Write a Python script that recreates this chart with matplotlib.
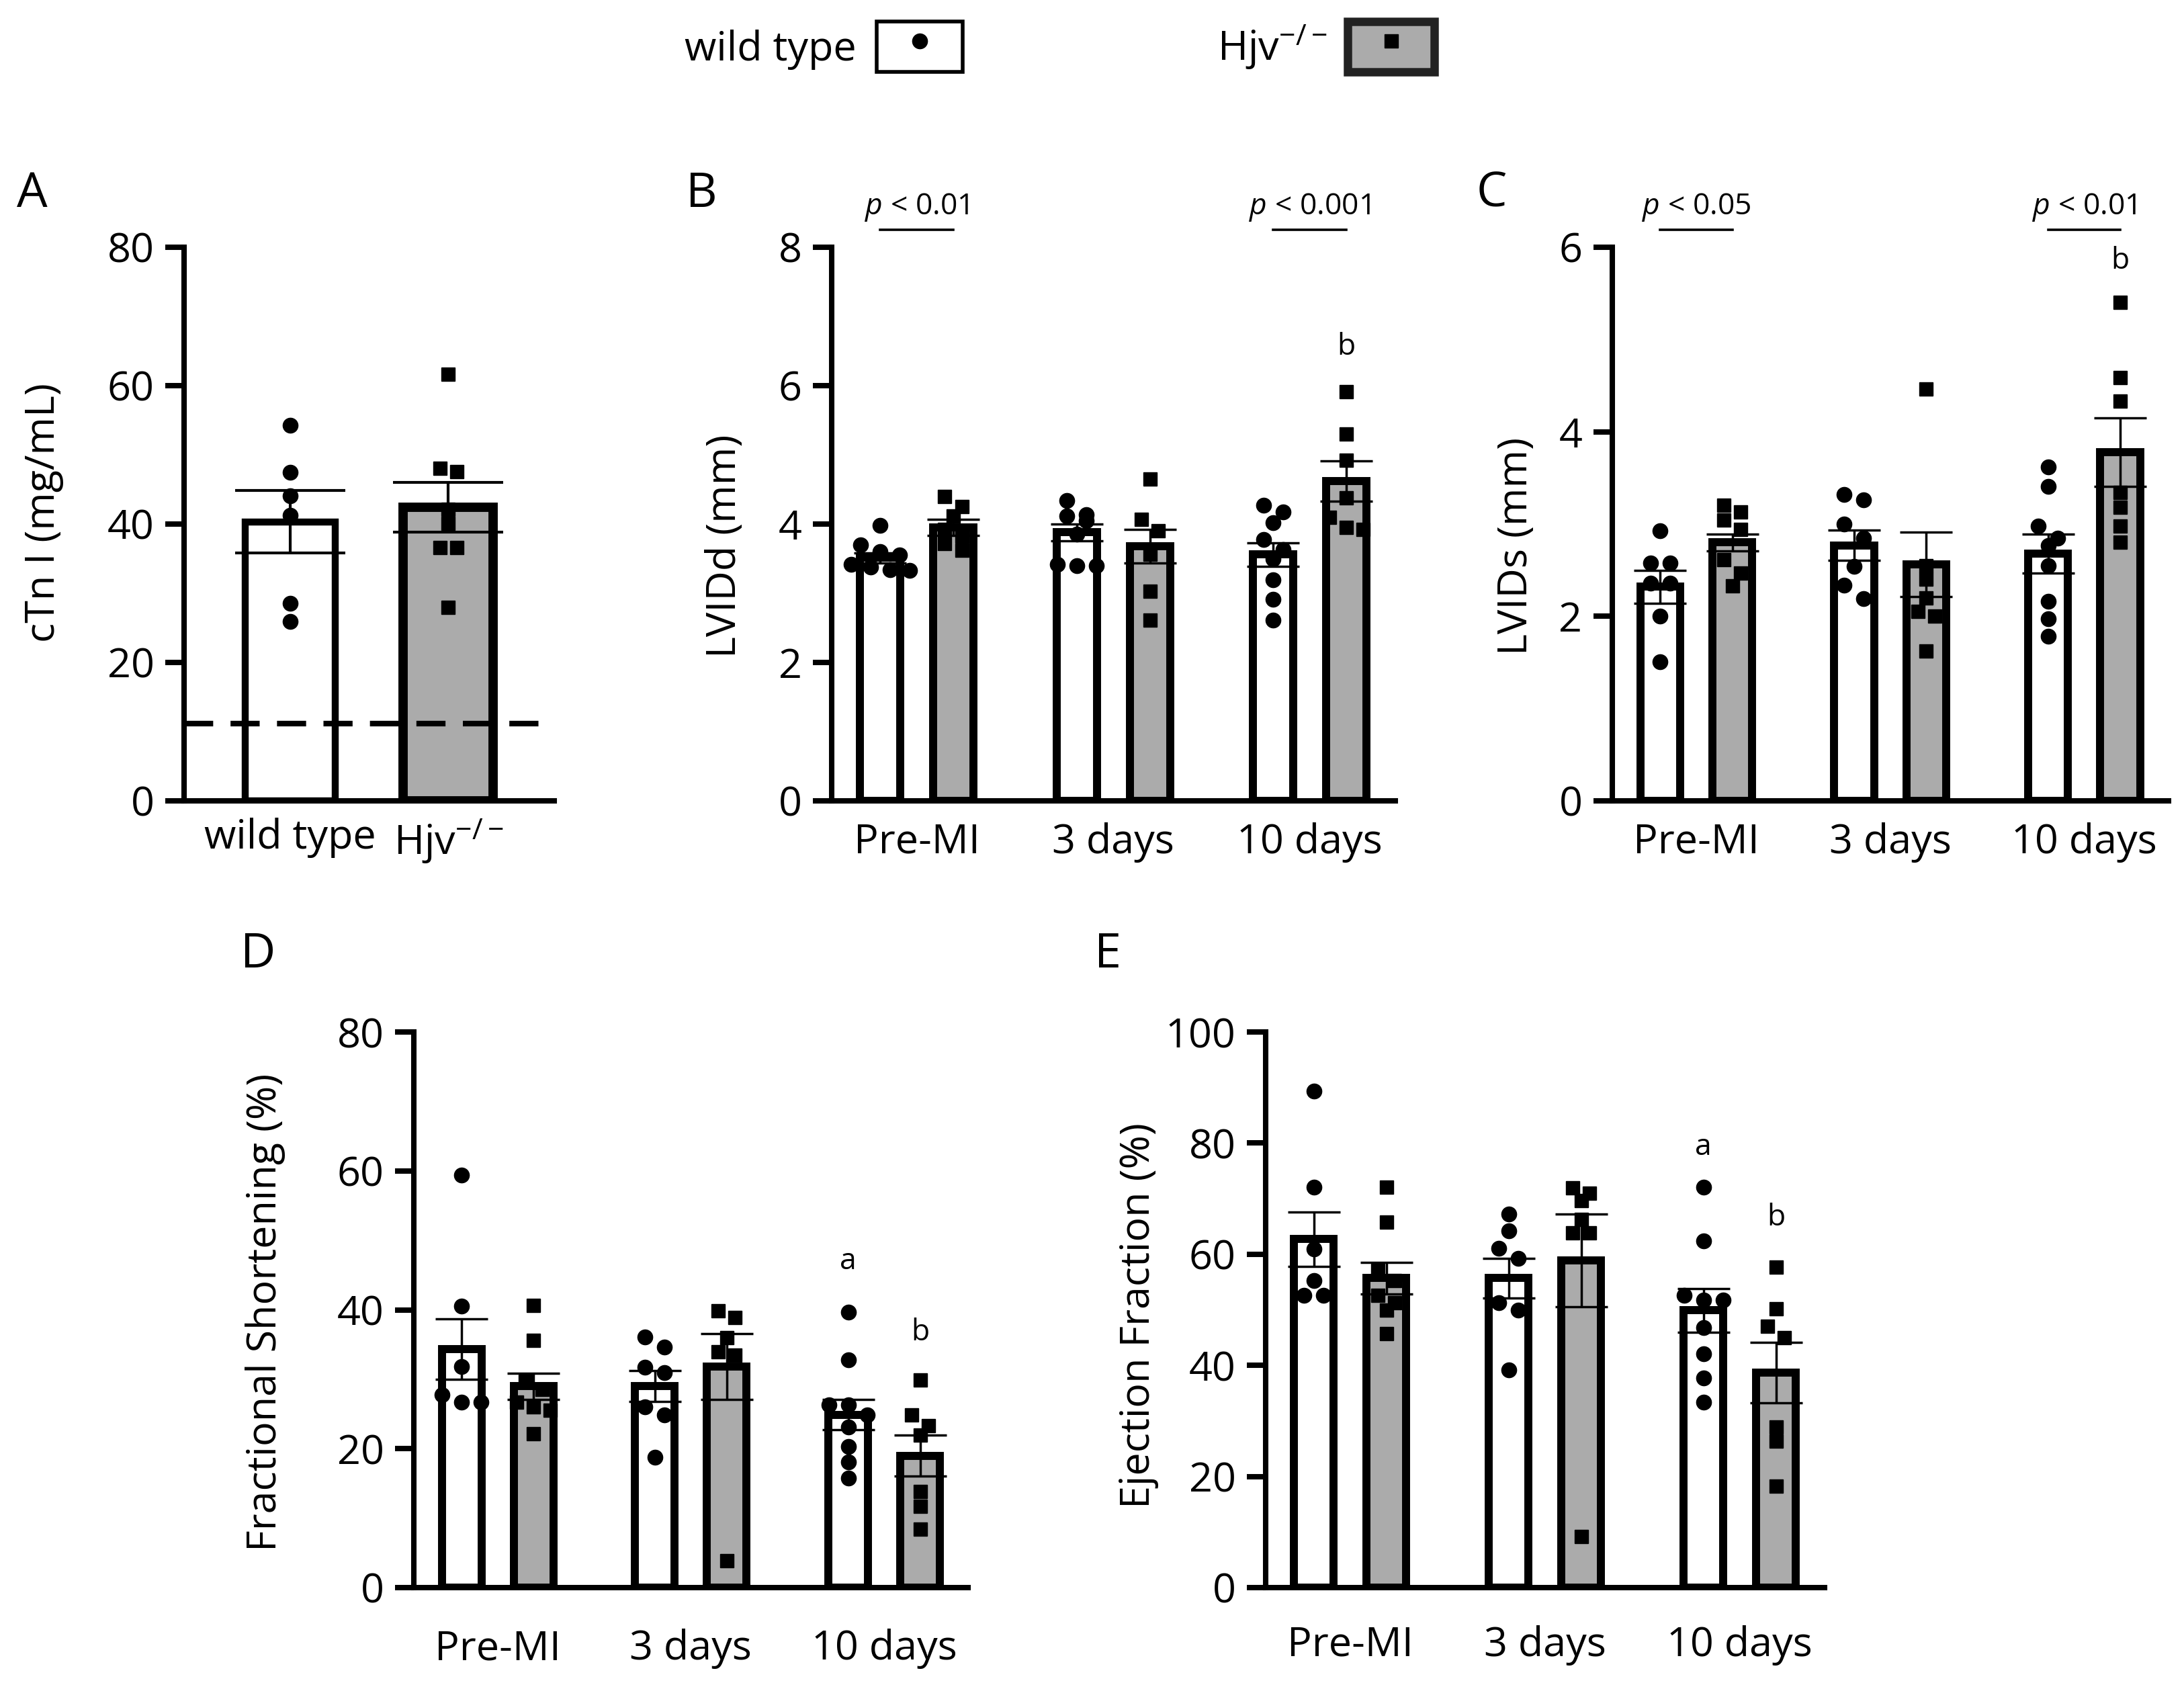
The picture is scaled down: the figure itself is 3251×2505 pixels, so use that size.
import numpy as np
import matplotlib.pyplot as plt
from matplotlib.lines import Line2D
from matplotlib.patches import Patch
from matplotlib.legend_handler import HandlerTuple

plt.rcParams['font.family'] = ['Open Sans', 'DejaVu Sans']
plt.rcParams['mathtext.fontset'] = 'custom'
plt.rcParams['mathtext.rm'] = 'Open Sans'
plt.rcParams['mathtext.it'] = 'Open Sans:italic'

GRAY = '#ababab'

groups = ['Pre-MI', '3 days', '10 days']

# A - serum cTnI
ctni_labels = ['wild type', 'Hjv$^{-/-}$']
ctni_mean = [40.3, 42.4]
ctni_sem = [4.5, 3.6]
ctni_wt = [54.3, 47.5, 44.1, 41.3, 28.5, 25.9]
ctni_hjv = [61.6, 48.1, 47.6, 42.1, 40.1, 36.6, 36.6, 28.0]
ctni_limit = 11.2

# B - LVIDd (mm)
lvidd_wt_mean = [3.51, 3.88, 3.56]
lvidd_wt_sem = [0.07, 0.12, 0.17]
lvidd_hjv_mean = [3.95, 3.68, 4.62]
lvidd_hjv_sem = [0.12, 0.24, 0.29]
lvidd_wt = [[3.98, 3.70, 3.60, 3.55, 3.42, 3.38, 3.34, 3.33],
            [4.34, 4.14, 4.12, 4.05, 3.85, 3.42, 3.40, 3.40],
            [4.27, 4.17, 4.02, 3.78, 3.63, 3.49, 3.19, 2.91, 2.61]]
lvidd_hjv = [[4.40, 4.25, 4.12, 3.92, 3.82, 3.72, 3.62],
             [4.65, 4.07, 3.90, 3.56, 3.03, 2.61],
             [5.91, 5.30, 4.92, 4.38, 4.10, 3.95, 3.92]]

# C - LVIDs (mm)
lvids_wt_mean = [2.32, 2.77, 2.68]
lvids_wt_sem = [0.18, 0.165, 0.21]
lvids_hjv_mean = [2.80, 2.56, 3.78]
lvids_hjv_sem = [0.09, 0.35, 0.37]
lvids_wt = [[2.93, 2.58, 2.58, 2.36, 2.36, 2.00, 1.51],
            [3.32, 3.26, 3.00, 2.85, 2.54, 2.34, 2.19],
            [3.62, 3.41, 2.98, 2.85, 2.77, 2.55, 2.16, 1.97, 1.78]]
lvids_hjv = [[3.20, 3.13, 3.04, 2.94, 2.61, 2.47, 2.33],
             [4.46, 2.55, 2.40, 2.20, 2.05, 2.00, 1.62],
             [5.40, 4.59, 4.33, 3.34, 3.18, 2.98, 2.80]]

# D - fractional shortening (%)
fs_wt_mean = [34.3, 29.0, 24.9]
fs_wt_sem = [4.35, 2.2, 2.2]
fs_hjv_mean = [29.0, 31.8, 19.0]
fs_hjv_sem = [1.9, 4.75, 2.95]
fs_wt = [[59.4, 40.5, 31.8, 27.8, 26.7, 26.7],
         [36.1, 34.6, 31.7, 31.0, 26.0, 24.9, 18.8],
         [39.7, 32.8, 26.3, 26.3, 24.9, 23.1, 20.3, 18.1, 15.8]]
fs_hjv = [[40.6, 35.6, 29.7, 28.5, 26.7, 26.0, 25.5, 22.2],
          [39.9, 38.9, 36.0, 34.0, 33.5, 3.9],
          [29.9, 24.9, 23.3, 22.0, 13.8, 11.7, 8.4]]

# E - ejection fraction (%)
ef_wt_mean = [62.7, 55.7, 49.9]
ef_wt_sem = [4.95, 3.6, 3.9]
ef_hjv_mean = [55.7, 58.9, 38.7]
ef_hjv_sem = [2.8, 8.35, 5.45]
ef_wt = [[89.4, 72.1, 61.0, 55.3, 52.6, 52.6],
         [67.2, 64.2, 61.1, 59.3, 51.3, 49.9, 39.2],
         [72.1, 62.4, 52.6, 51.7, 51.7, 46.8, 42.1, 37.7, 33.4]]
ef_hjv = [[72.1, 65.8, 57.1, 55.3, 52.6, 51.3, 50.0, 45.7],
          [72.0, 71.0, 69.6, 66.3, 63.8, 63.8, 9.2],
          [57.7, 50.2, 47.0, 45.0, 28.9, 26.4, 18.2]]


def style_axis(ax, ymax, yticks, xpad):
    ax.set_ylim(0, ymax)
    ax.set_yticks(yticks)
    for s in ['top', 'right']:
        ax.spines[s].set_visible(False)
    for s in ['left', 'bottom']:
        ax.spines[s].set_linewidth(5.8)
    ax.tick_params(axis='y', length=20, width=5.8, pad=12, labelsize=44)
    ax.tick_params(axis='x', length=0, pad=xpad, labelsize=44)


def swarm_x(ax, x0, vals, diam_px):
    # spread points that sit at about the same height side by side
    px_x = ax.transData.transform((1, 0))[0] - ax.transData.transform((0, 0))[0]
    px_y = ax.transData.transform((0, 1))[1] - ax.transData.transform((0, 0))[1]
    order = np.argsort(vals)[::-1]
    xs = np.zeros(len(vals))
    rows = []
    for i in order:
        if rows and (vals[rows[-1][0]] - vals[i]) * px_y < diam_px:
            rows[-1].append(i)
        else:
            rows.append([i])
    step = diam_px * 1.3 / px_x
    for r in rows:
        n = len(r)
        for k, i in enumerate(r):
            xs[i] = x0 + (k - (n - 1) / 2) * step
    return xs


def draw_points(ax, x0, vals, marker, ms):
    xs = swarm_x(ax, x0, vals, ms * 100 / 72)
    ax.plot(xs, vals, marker, color='black', ms=ms, ls='', zorder=3, clip_on=False)


def time_panel(ax, ymax, yticks, ylabel, wt_mean, wt_sem, hjv_mean, hjv_sem,
               wt_pts, hjv_pts, xpad, pvals=(), letters=()):
    x = np.arange(len(groups))
    off, w = 0.186, 0.205
    ax.set_xlim(-0.433, 2.435)
    style_axis(ax, ymax, yticks, xpad)
    ax.bar(x - off, wt_mean, w, color='white', edgecolor='black', linewidth=8.6, zorder=2)
    ax.bar(x + off, hjv_mean, w, color=GRAY, edgecolor='black', linewidth=8.6, zorder=2)
    for i in range(len(groups)):
        draw_points(ax, x[i] - off, wt_pts[i], 'o', 16)
        draw_points(ax, x[i] + off, hjv_pts[i], 's', 14)
    ax.errorbar(x - off, wt_mean, yerr=wt_sem, fmt='none', ecolor='black',
                elinewidth=2.5, capsize=28, capthick=2.5, zorder=4)
    ax.errorbar(x + off, hjv_mean, yerr=hjv_sem, fmt='none', ecolor='black',
                elinewidth=2.5, capsize=28, capthick=2.5, zorder=4)
    ax.set_xticks(x)
    ax.set_xticklabels(groups)
    ax.set_ylabel(ylabel, fontsize=44)
    trans = ax.get_xaxis_transform()
    for g, txt in pvals:
        ax.plot([g - off, g + off], [1.032, 1.032], color='black', lw=2.6,
                transform=trans, clip_on=False)
        ax.text(g, 1.06, txt, transform=trans, ha='center', va='baseline',
                fontsize=32)
    for g, side, lab, y in letters:
        xx = g - off if side == 'wt' else g + off
        ax.text(xx, y, lab, ha='center', va='center', fontsize=32)


fig = plt.figure(figsize=(32.51, 25.05), dpi=100)

# panel A
axA = fig.add_axes([0.0843, 0.5242, 0.1695, 0.3289])
axA.set_xlim(-0.67, 1.67)
style_axis(axA, 80, [0, 20, 40, 60, 80], 18)
axA.bar([0], ctni_mean[:1], 0.57, color='white', edgecolor='black', linewidth=7.5, zorder=2)
axA.bar([1], ctni_mean[1:], 0.57, color=GRAY, edgecolor='black', linewidth=10, zorder=2)
draw_points(axA, 0, ctni_wt, 'o', 16)
draw_points(axA, 1, ctni_hjv, 's', 14)
axA.errorbar([0, 1], ctni_mean, yerr=ctni_sem, fmt='none', ecolor='black',
             elinewidth=3, capsize=59, capthick=3, zorder=4)
axA.axhline(ctni_limit, color='black', lw=6, ls=(0, (5.2, 3.1)), zorder=5)
axA.set_xticks([0, 1])
axA.set_xticklabels(ctni_labels)
axA.set_ylabel('cTn I (mg/mL)', fontsize=44)
axA.yaxis.set_label_coords(-0.325, 0.52)

axB = fig.add_axes([0.3808, 0.5242, 0.2581, 0.3289])
time_panel(axB, 8, [0, 2, 4, 6, 8], 'LVIDd (mm)', lvidd_wt_mean, lvidd_wt_sem,
           lvidd_hjv_mean, lvidd_hjv_sem, lvidd_wt, lvidd_hjv, 23,
           pvals=[(0, '$p$ < 0.01'), (2, '$p$ < 0.001')],
           letters=[(2, 'hjv', 'b', 6.56)])
axB.yaxis.set_label_coords(-0.154, 0.46)

axC = fig.add_axes([0.7382, 0.5242, 0.2547, 0.3289])
time_panel(axC, 6, [0, 2, 4, 6], 'LVIDs (mm)', lvids_wt_mean, lvids_wt_sem,
           lvids_hjv_mean, lvids_hjv_sem, lvids_wt, lvids_hjv, 23,
           pvals=[(0, '$p$ < 0.05'), (2, '$p$ < 0.01')],
           letters=[(2, 'hjv', 'b', 5.85)])
axC.yaxis.set_label_coords(-0.136, 0.46)

axD = fig.add_axes([0.1895, 0.0567, 0.2538, 0.3301])
time_panel(axD, 80, [0, 20, 40, 60, 80], 'Fractional Shortening (%)', fs_wt_mean,
           fs_wt_sem, fs_hjv_mean, fs_hjv_sem, fs_wt, fs_hjv, 44,
           letters=[(2, 'wt', 'a', 46.9), (2, 'hjv', 'b', 36.7)])
axD.yaxis.set_label_coords(-0.2315, 0.496)

axE = fig.add_axes([0.5795, 0.0567, 0.2559, 0.3301])
time_panel(axE, 100, [0, 20, 40, 60, 80, 100], 'Ejection Fraction (%)', ef_wt_mean,
           ef_wt_sem, ef_hjv_mean, ef_hjv_sem, ef_wt, ef_hjv, 40,
           letters=[(2, 'wt', 'a', 79.2), (2, 'hjv', 'b', 66.6)])
axE.yaxis.set_label_coords(-0.191, 0.49)

for lab, xx, yy in [('A', 0.0077, 0.899), ('B', 0.314, 0.899), ('C', 0.676, 0.899),
                    ('D', 0.110, 0.447), ('E', 0.501, 0.447)]:
    fig.text(xx, yy, lab, fontsize=52, va='top', ha='left')

handles = [(Patch(facecolor='white', edgecolor='black', linewidth=4),
            Line2D([], [], marker='o', ls='', color='black', ms=16)),
           (Patch(facecolor=GRAY, edgecolor='#222222', linewidth=9),
            Line2D([], [], marker='s', ls='', color='black', ms=14))]
fig.legend(handles, ['wild type', 'Hjv$^{-/-}$'],
           handler_map={tuple: HandlerTuple(ndivide=1, pad=0)},
           ncol=2, frameon=False, markerfirst=False, fontsize=44,
           loc='upper center', bbox_to_anchor=(0.485, 1.009),
           handlelength=2.1, handleheight=1.5, handletextpad=0.5,
           columnspacing=6.2)

fig.savefig('out.png', dpi=100)
